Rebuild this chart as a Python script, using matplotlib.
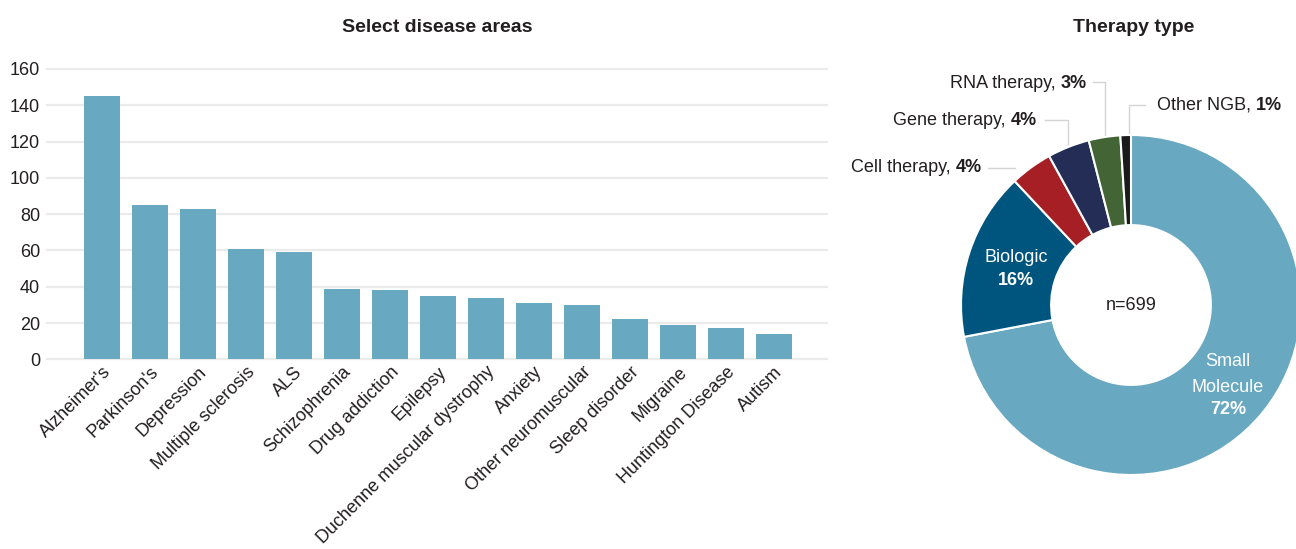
import matplotlib
matplotlib.use('Agg')
import matplotlib.pyplot as plt

plt.rcParams['font.family'] = ['Liberation Sans', 'DejaVu Sans']

# bar chart data
diseases = ["Alzheimer's", "Parkinson's", "Depression", "Multiple sclerosis", "ALS",
            "Schizophrenia", "Drug addiction", "Epilepsy", "Duchenne muscular dystrophy",
            "Anxiety", "Other neuromuscular", "Sleep disorder", "Migraine",
            "Huntington Disease", "Autism"]
counts = [145, 85, 83, 61, 59, 39, 38, 35, 34, 31, 30, 22, 19, 17, 14]
y_ticks = [0, 20, 40, 60, 80, 100, 120, 140, 160]

# donut data
therapy = ["Small Molecule", "Biologic", "Cell therapy", "Gene therapy", "RNA therapy", "Other NGB"]
share = [72, 16, 4, 4, 3, 1]
n_total = 699

bar_col = '#68a8c1'
pie_cols = ['#68a8c1', '#00557f', '#a51f24', '#232d56', '#436535', '#1a1a1a']
txt_col = '#231f20'
grid_col = '#ebebeb'
lead_col = '#d4d4d4'
fs = 13

W, H = 1296, 549
fig = plt.figure(figsize=(W / 100, H / 100), dpi=100)

# ---- bars ----
ax = fig.add_axes([47 / W, 1 - 359.3 / H, (827 - 47) / W, (359.3 - 69) / H])
x = list(range(len(diseases)))
ax.bar(x, counts, width=0.75, color=bar_col, zorder=2)
ax.set_xlim(-1.146, 15.1)
ax.set_ylim(0, 160)
ax.set_yticks(y_ticks)
ax.set_yticklabels([str(v) for v in y_ticks], fontsize=fs, color=txt_col)
for v in y_ticks:
    ax.axhline(v, color=grid_col, lw=1.6, zorder=1, clip_on=False)
ax.set_xticks(x)
ax.set_xticklabels(diseases, rotation=45, ha='right', rotation_mode='anchor',
                   fontsize=fs, color=txt_col)
ax.tick_params(axis='both', length=0)
ax.tick_params(axis='y', pad=5)
ax.tick_params(axis='x', pad=3)
for s in ax.spines.values():
    s.set_visible(False)
fig.text(437 / W, 1 - 27 / H, 'Select disease areas', ha='center', va='center',
         fontsize=14, fontweight='bold', color=txt_col)

# ---- donut ----
cx, cy, R = 1131, 305, 170
x0, x1, y0, y1 = 840, 1296, 45, 549
ax2 = fig.add_axes([x0 / W, 1 - y1 / H, (x1 - x0) / W, (y1 - y0) / H])
ax2.pie(share, colors=pie_cols, startangle=90, counterclock=False, radius=1,
        wedgeprops=dict(width=0.53, edgecolor='white', linewidth=1.5))
ax2.set_aspect('auto')
ax2.set_xlim((x0 - cx) / R, (x1 - cx) / R)
ax2.set_ylim((cy - y1) / R, (cy - y0) / R)
ax2.axis('off')


def p(px, py):
    return ((px - cx) / R, (cy - py) / R)


fig.text(1134 / W, 1 - 27 / H, 'Therapy type', ha='center', va='center',
         fontsize=14, fontweight='bold', color=txt_col)

ax2.text(*p(cx, 305), 'n=' + str(n_total), ha='center', va='center', fontsize=fs, color=txt_col)
ax2.text(*p(1016, 257), therapy[1], ha='center', va='center', fontsize=fs, color='white')
ax2.text(*p(1016, 280), str(share[1]) + '%', ha='center', va='center', fontsize=fs,
         color='white', fontweight='bold')
ax2.text(*p(1228, 362), 'Small', ha='center', va='center', fontsize=fs, color='white')
ax2.text(*p(1228, 387), 'Molecule', ha='center', va='center', fontsize=fs, color='white')
ax2.text(*p(1228, 410), str(share[0]) + '%', ha='center', va='center', fontsize=fs,
         color='white', fontweight='bold')


def outside_label(name, pct, px, py, align):
    # bold percentage after regular name
    if align == 'right':
        b = ax2.text(*p(px, py), str(pct) + '%', ha='right', va='center', fontsize=fs,
                     fontweight='bold', color=txt_col)
        ax2.annotate(name + ', ', xy=(0, 0), xycoords=b, ha='right', va='bottom',
                     fontsize=fs, color=txt_col)
    else:
        t = ax2.text(*p(px, py), name + ', ', ha='left', va='center', fontsize=fs, color=txt_col)
        ax2.annotate(str(pct) + '%', xy=(1, 0), xycoords=t, ha='left', va='bottom',
                     fontsize=fs, fontweight='bold', color=txt_col)


outside_label(therapy[2], share[2], 982, 167, 'right')
outside_label(therapy[3], share[3], 1037, 120, 'right')
outside_label(therapy[4], share[4], 1087, 83, 'right')
outside_label(therapy[5], share[5], 1157, 105, 'left')

# leader lines
legs = [
    [(988, 168), (1015, 168)],
    [(1045, 120), (1068, 120), (1068, 145)],
    [(1093, 82), (1105, 82), (1105, 136)],
    [(1129, 136), (1129, 105), (1145, 105)],
]
for pts in legs:
    xs = [p(a, b)[0] for a, b in pts]
    ys = [p(a, b)[1] for a, b in pts]
    ax2.plot(xs, ys, color=lead_col, lw=1.0, zorder=0)

fig.savefig('out.png', dpi=100, facecolor='white')
